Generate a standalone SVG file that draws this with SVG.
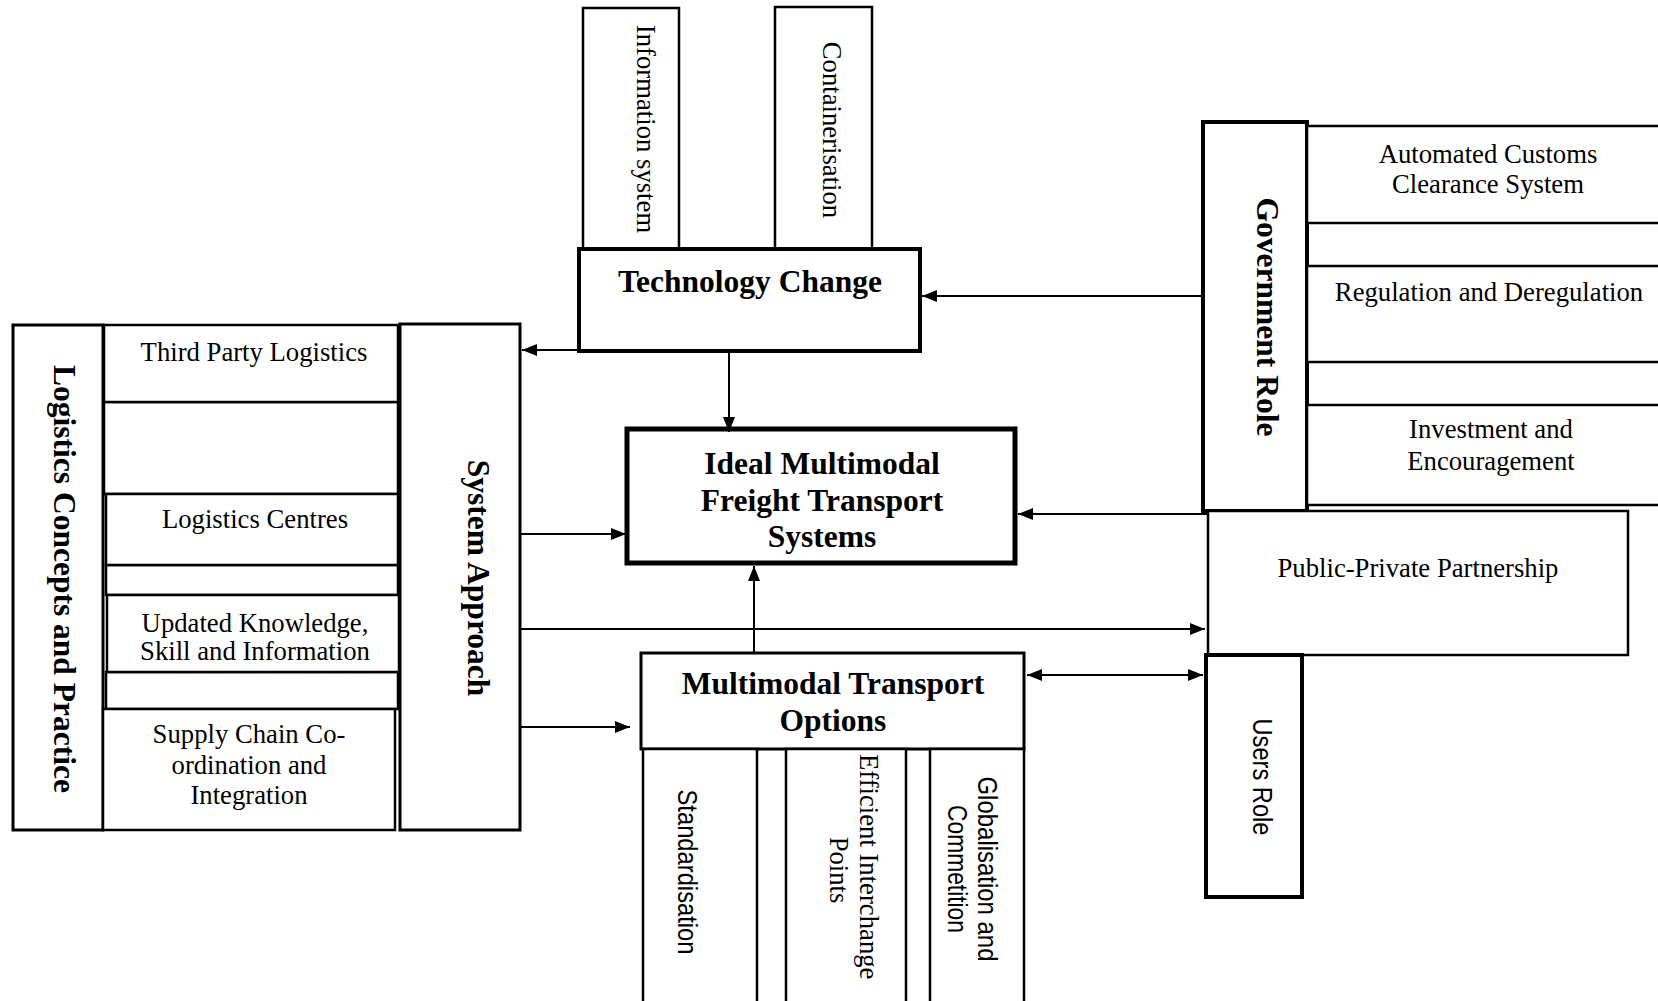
<svg xmlns="http://www.w3.org/2000/svg" width="1658" height="1001" viewBox="0 0 1658 1001">
  <style>
    .box { fill: #fff; stroke: #000; stroke-width: 2.5; }
    .b3 { stroke-width: 3; }
    .b4 { stroke-width: 4; }
    .b5 { stroke-width: 5; }
    .link { fill: none; stroke: #000; stroke-width: 2; }
    text { fill: #000; }
    .serif { font-family: "Liberation Serif", "Times New Roman", serif; font-size: 26.7px; text-anchor: middle; }
    .bold { font-family: "Liberation Serif", "Times New Roman", serif; font-size: 31.5px; font-weight: bold; text-anchor: middle; }
    .sans { font-family: "Liberation Sans", Arial, sans-serif; font-size: 28px; text-anchor: middle; }
  </style>
  <defs>
    <marker id="arrow" viewBox="0 0 15 12" refX="15" refY="6" markerWidth="15" markerHeight="12" markerUnits="userSpaceOnUse" orient="auto-start-reverse">
      <path d="M0,0 L15,6 L0,12 z" fill="#000"/>
    </marker>
  </defs>

  <rect width="1658" height="1001" fill="#fff"/>

  <!-- Technology branch -->
  <g id="information-system">
    <rect class="box" x="583" y="8" width="96" height="241"/>
    <text class="serif" transform="translate(637,129) rotate(90)">Information system</text>
  </g>
  <g id="containerisation">
    <rect class="box" x="775" y="7" width="97" height="242"/>
    <text class="serif" transform="translate(823,130) rotate(90)">Containerisation</text>
  </g>
  <g id="technology-change">
    <rect class="box b4" x="579" y="249" width="341" height="102"/>
    <text class="bold" x="750" y="292">Technology Change</text>
  </g>

  <!-- Central goal -->
  <g id="ideal-system">
    <rect class="box b5" x="627" y="429" width="388" height="134"/>
    <text class="bold" x="822" y="474">Ideal Multimodal</text>
    <text class="bold" x="822" y="510.5">Freight Transport</text>
    <text class="bold" x="822" y="547">Systems</text>
  </g>

  <!-- Logistics column -->
  <g id="logistics-concepts">
    <rect class="box b3" x="13" y="325" width="90" height="505"/>
    <text class="bold" transform="translate(54,579) rotate(90)">Logistics Concepts and Practice</text>
  </g>
  <g id="logistics-items">
    <rect class="box" x="104" y="402" width="294" height="92"/>
    <rect class="box" x="106" y="565" width="292" height="30"/>
    <rect class="box" x="106" y="672" width="292" height="37"/>
  </g>
  <g id="third-party-logistics">
    <rect class="box" x="104" y="325" width="294" height="77"/>
    <text class="serif" x="254" y="361">Third Party Logistics</text>
  </g>
  <g id="logistics-centres">
    <rect class="box" x="106" y="494" width="292" height="71"/>
    <text class="serif" x="255" y="528">Logistics Centres</text>
  </g>
  <g id="updated-knowledge">
    <rect class="box" x="107" y="595" width="292" height="77"/>
    <text class="serif" x="255" y="632">Updated Knowledge,</text>
    <text class="serif" x="255" y="660">Skill and Information</text>
  </g>
  <g id="supply-chain">
    <rect class="box" x="103" y="709" width="292" height="121"/>
    <text class="serif" x="249" y="743">Supply Chain Co-</text>
    <text class="serif" x="249" y="774">ordination and</text>
    <text class="serif" x="249" y="804">Integration</text>
  </g>
  <g id="system-approach">
    <rect class="box b3" x="400" y="324" width="120" height="506"/>
    <text class="bold" transform="translate(468,578) rotate(90)">System Approach</text>
  </g>

  <!-- Multimodal options -->
  <g id="multimodal-options">
    <rect class="box b3" x="641" y="653" width="383" height="96"/>
    <text class="bold" x="833" y="694">Multimodal Transport</text>
    <text class="bold" x="833" y="731">Options</text>
  </g>
  <g id="standardisation">
    <rect class="box" x="643" y="749" width="114" height="262"/>
    <text class="sans" transform="translate(678,872) rotate(90)" textLength="165" lengthAdjust="spacingAndGlyphs">Standardisation</text>
  </g>
  <g id="interchange-points">
    <rect class="box" x="786" y="749" width="120" height="262"/>
    <text class="serif" transform="translate(860,870) rotate(90)">
      <tspan x="0" y="0">Efficient Interchange</tspan>
      <tspan x="0" y="30">Points</tspan>
    </text>
  </g>
  <g id="globalisation">
    <rect class="box" x="930" y="749" width="94" height="262"/>
    <text class="sans" transform="translate(978,869) rotate(90)" textLength="185" lengthAdjust="spacingAndGlyphs">Globalisation and</text>
    <text class="sans" transform="translate(948,869) rotate(90)" textLength="128" lengthAdjust="spacingAndGlyphs">Commetition</text>
  </g>

  <!-- Government side -->
  <g id="government-role">
    <rect class="box b4" x="1203" y="122" width="104" height="389"/>
    <text class="bold" transform="translate(1257,317) rotate(90)">Government Role</text>
  </g>
  <g id="customs-clearance">
    <rect class="box" x="1307" y="126" width="360" height="97"/>
    <text class="serif" x="1488" y="163">Automated Customs</text>
    <text class="serif" x="1488" y="193">Clearance System</text>
  </g>
  <g id="regulation">
    <rect class="box" x="1307" y="266" width="360" height="96"/>
    <text class="serif" x="1489" y="301">Regulation and Deregulation</text>
  </g>
  <g id="investment">
    <rect class="box" x="1307" y="405" width="360" height="100"/>
    <text class="serif" x="1491" y="438">Investment and</text>
    <text class="serif" x="1491" y="470">Encouragement</text>
  </g>
  <g id="public-private-partnership">
    <rect class="box" x="1208" y="511" width="420" height="144"/>
    <text class="serif" x="1418" y="577">Public-Private Partnership</text>
  </g>
  <g id="users-role">
    <rect class="box b4" x="1206" y="655" width="96" height="242"/>
    <text class="sans" transform="translate(1253,777) rotate(90)" font-size="27" textLength="117" lengthAdjust="spacingAndGlyphs">Users Role</text>
  </g>

  <!-- Connectors -->
  <g id="connectors" class="link">
    <path d="M579,350 H522" marker-end="url(#arrow)"/>
    <path d="M729,351 V432" marker-end="url(#arrow)"/>
    <path d="M1203,296 H922" marker-end="url(#arrow)"/>
    <path d="M1208,514 H1018" marker-end="url(#arrow)"/>
    <path d="M520,534 H626" marker-end="url(#arrow)"/>
    <path d="M520,629 H1205" marker-end="url(#arrow)"/>
    <path d="M520,727 H630" marker-end="url(#arrow)"/>
    <path d="M754,653 V566" marker-end="url(#arrow)"/>
    <path d="M1027,675 H1203" marker-start="url(#arrow)" marker-end="url(#arrow)"/>
  </g>
</svg>
